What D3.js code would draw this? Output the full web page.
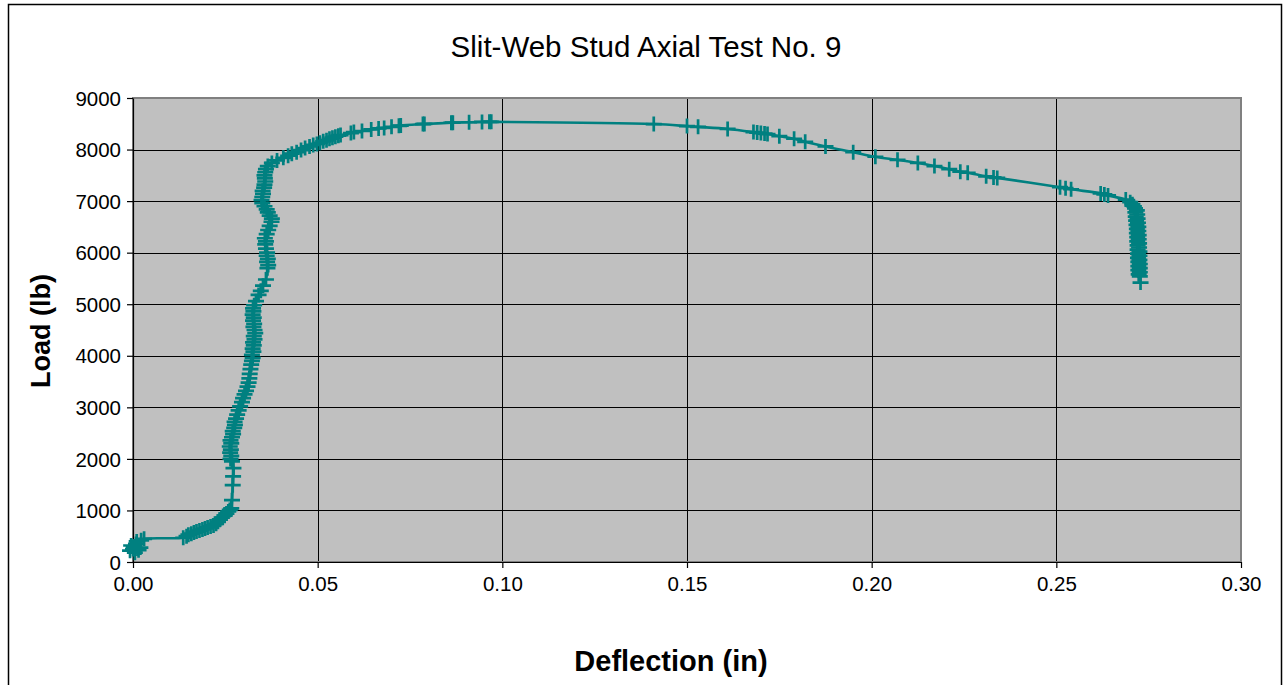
<!DOCTYPE html>
<html><head><meta charset="utf-8">
<script src="https://cdn.jsdelivr.net/npm/d3@7"></script>
<style>
html,body{margin:0;padding:0;background:#fff;}
svg{display:block;font-family:"Liberation Sans",Arial,sans-serif;}
</style></head>
<body>
<svg id="chart" width="1283" height="685"></svg>
<script>
const chartTitle = "Slit-Web Stud Axial Test No. 9";
const xAxisTitle = "Deflection (in)";
const yAxisTitle = "Load (lb)";
const xTickValues = [0, 0.05, 0.10, 0.15, 0.20, 0.25, 0.30];
const yTickValues = [0, 1000, 2000, 3000, 4000, 5000, 6000, 7000, 8000, 9000];

// [deflection (in), load (lb)]
const testPoints = [
[0.0000,250],[-0.0008,220],[0.0005,180],[0.0002,300],[0.0012,260],[-0.0005,320],[0.0008,350],[0.0015,230],[0.0020,280],[0.0010,400],[0.0022,420],[0.0030,450],
[0.0136,470],[0.0145,500],[0.0150,530],[0.0158,550],[0.0165,570],[0.0172,590],[0.0180,610],[0.0188,630],[0.0195,650],[0.0202,670],[0.0210,690],[0.0218,710],[0.0225,740],[0.0230,780],[0.0235,820],[0.0240,860],[0.0248,900],[0.0253,940],[0.0258,980],[0.0262,1010],[0.0266,1040],
[0.0268,1200],[0.0270,1490],[0.0271,1660],[0.0272,1820],[0.0268,1950],[0.0264,2000],[0.0266,2060],[0.0263,2120],[0.0265,2180],[0.0262,2240],[0.0266,2300],[0.0264,2360],[0.0268,2420],[0.0271,2480],[0.0270,2540],[0.0274,2600],[0.0276,2660],[0.0275,2720],[0.0279,2780],[0.0282,2860],[0.0286,2940],[0.0290,3020],[0.0295,3100],[0.0298,3180],[0.0302,3250],[0.0306,3320],[0.0310,3400],[0.0313,3480],[0.0315,3560],[0.0316,3650],[0.0318,3740],[0.0320,3830],[0.0322,3900],[0.0324,3960],[0.0322,4020],[0.0326,4080],[0.0324,4140],[0.0327,4200],[0.0325,4260],[0.0329,4320],[0.0327,4380],[0.0331,4440],[0.0329,4500],[0.0326,4560],[0.0328,4620],[0.0325,4680],[0.0327,4740],[0.0324,4800],[0.0326,4860],[0.0325,4920],[0.0328,4980],[0.0333,5060],[0.0340,5180],[0.0346,5260],[0.0352,5360],[0.0360,5480],[0.0364,5700],[0.0366,5760],[0.0363,5820],[0.0365,5880],[0.0362,5940],[0.0363,6000],[0.0360,6080],[0.0358,6160],[0.0360,6220],[0.0357,6280],[0.0362,6360],[0.0366,6440],[0.0370,6520],[0.0375,6600],[0.0376,6660],[0.0370,6720],[0.0365,6780],[0.0362,6840],[0.0356,6900],[0.0350,6960],[0.0348,7020],[0.0350,7080],[0.0352,7140],[0.0351,7200],[0.0355,7260],[0.0356,7320],[0.0358,7380],[0.0357,7440],[0.0356,7500],[0.0358,7560],[0.0360,7620],[0.0365,7680],[0.0376,7740],[0.0390,7790],[0.0407,7840],[0.0420,7880],[0.0430,7920],[0.0443,7950],[0.0455,7990],[0.0466,8030],[0.0478,8060],[0.0488,8090],[0.0498,8110],[0.0506,8130],[0.0515,8160],[0.0524,8180],[0.0532,8210],[0.0540,8230],[0.0548,8250],[0.0556,8270],[0.0562,8280],[0.0590,8320],[0.0598,8340],[0.0620,8360],[0.0645,8390],[0.0665,8410],[0.0680,8420],[0.0700,8440],[0.0720,8460],[0.0725,8465],[0.0785,8495],[0.0789,8497],[0.0862,8520],[0.0866,8522],[0.0910,8530],[0.0945,8535],[0.0965,8537],[0.0970,8537],
[0.1410,8495],[0.1500,8455],[0.1530,8440],[0.1610,8400],[0.1680,8340],[0.1690,8330],[0.1700,8320],[0.1710,8310],[0.1718,8300],[0.1750,8260],[0.1790,8210],[0.1820,8150],[0.1875,8060],[0.1950,7950],[0.2010,7860],[0.2070,7800],[0.2125,7740],[0.2170,7680],[0.2210,7620],[0.2240,7570],[0.2260,7550],[0.2310,7480],[0.2330,7460],[0.2340,7450],[0.2510,7270],[0.2525,7250],[0.2540,7230],[0.2620,7150],[0.2630,7130],[0.2640,7110],[0.2688,7030],[0.2700,6980],[0.2706,6940],[0.2710,6900],
[0.2713,6860],[0.2718,6820],[0.2714,6780],[0.2719,6740],[0.2715,6700],[0.2720,6660],[0.2716,6620],[0.2721,6580],[0.2717,6540],[0.2722,6500],[0.2718,6460],[0.2722,6420],[0.2718,6380],[0.2723,6340],[0.2719,6300],[0.2723,6260],[0.2719,6220],[0.2724,6180],[0.2720,6140],[0.2724,6100],[0.2720,6060],[0.2725,6020],[0.2721,5980],[0.2725,5940],[0.2721,5900],[0.2725,5860],[0.2722,5820],[0.2726,5780],[0.2722,5740],[0.2726,5700],[0.2722,5660],[0.2726,5620],[0.2723,5580],[0.2726,5540],[0.2728,5420]
];

const svg = d3.select("#chart");
const plot = {left: 133, right: 1241, top: 98, bottom: 562};
const teal = "#008080";

// outer chart border
svg.append("rect").attr("x", 8.5).attr("y", 4.5).attr("width", 1273).attr("height", 720)
  .attr("fill", "#fff").attr("stroke", "#000").attr("stroke-width", 1.5);

const x = d3.scaleLinear().domain([0, 0.30]).range([plot.left, plot.right]);
const y = d3.scaleLinear().domain([0, 9000]).range([plot.bottom, plot.top]);

// plot area
svg.append("rect").attr("x", plot.left).attr("y", plot.top)
  .attr("width", plot.right - plot.left).attr("height", plot.bottom - plot.top)
  .attr("fill", "#C0C0C0");

// gridlines
const grid = svg.append("g");
grid.selectAll("line.h").data(yTickValues.filter(d => d > 0 && d < 9000)).join("line")
  .attr("x1", plot.left).attr("x2", plot.right)
  .attr("y1", d => Math.round(y(d)) + 0.5).attr("y2", d => Math.round(y(d)) + 0.5)
  .attr("stroke", "#000").attr("stroke-width", 1);
grid.selectAll("line.v").data(xTickValues.filter(d => d > 0 && d < 0.30)).join("line")
  .attr("y1", plot.top).attr("y2", plot.bottom)
  .attr("x1", d => Math.round(x(d)) + 0.5).attr("x2", d => Math.round(x(d)) + 0.5)
  .attr("stroke", "#000").attr("stroke-width", 1);

// plot border
svg.append("rect").attr("x", plot.left).attr("y", plot.top)
  .attr("width", plot.right - plot.left).attr("height", plot.bottom - plot.top)
  .attr("fill", "none").attr("stroke", "#808080").attr("stroke-width", 2);

// axes
const xAxis = d3.axisBottom(x).tickValues(xTickValues).tickFormat(d3.format(".2f")).tickSizeInner(6).tickSizeOuter(0).tickPadding(8);
const yAxis = d3.axisLeft(y).tickValues(yTickValues).tickFormat(d3.format("d")).tickSizeInner(6).tickSizeOuter(0).tickPadding(6);

const gx = svg.append("g").attr("transform", `translate(0,${plot.bottom})`).call(xAxis);
const gy = svg.append("g").attr("transform", `translate(${plot.left},0)`).call(yAxis);
[gx, gy].forEach(g => {
  g.select(".domain").attr("stroke", "#000").attr("stroke-width", 1.2);
  g.selectAll(".tick line").attr("stroke", "#000").attr("stroke-width", 1.2);
  g.selectAll(".tick text").attr("fill", "#000").style("font-family", "'Liberation Sans', Arial, sans-serif").style("font-size", "20.5px");
});
gy.selectAll(".tick text").attr("dy", "0.35em");

// series line
const line = d3.line().x(d => x(d[0])).y(d => y(d[1])).curve(d3.curveCatmullRom.alpha(0.5));
svg.append("path").datum(testPoints).attr("d", line)
  .attr("fill", "none").attr("stroke", teal).attr("stroke-width", 2.6);

// plus markers
svg.append("g").selectAll("path").data(testPoints).join("path")
  .attr("transform", d => `translate(${x(d[0])},${y(d[1])})`)
  .attr("d", "M-8,0H8M0,-7.5V7.5")
  .attr("fill", "none").attr("stroke", teal).attr("stroke-width", 2.7);

// titles
svg.append("text").attr("x", 646).attr("y", 57).attr("text-anchor", "middle")
  .style("font-size", "29.5px").attr("fill", "#000").text(chartTitle);
svg.append("text").attr("x", 671).attr("y", 671).attr("text-anchor", "middle")
  .style("font-size", "29px").style("font-weight", "bold").attr("fill", "#000").text(xAxisTitle);
svg.append("text").attr("transform", "translate(50,331) rotate(-90)").attr("text-anchor", "middle")
  .style("font-size", "27px").style("font-weight", "bold").attr("fill", "#000").text(yAxisTitle);
</script>
</body></html>
